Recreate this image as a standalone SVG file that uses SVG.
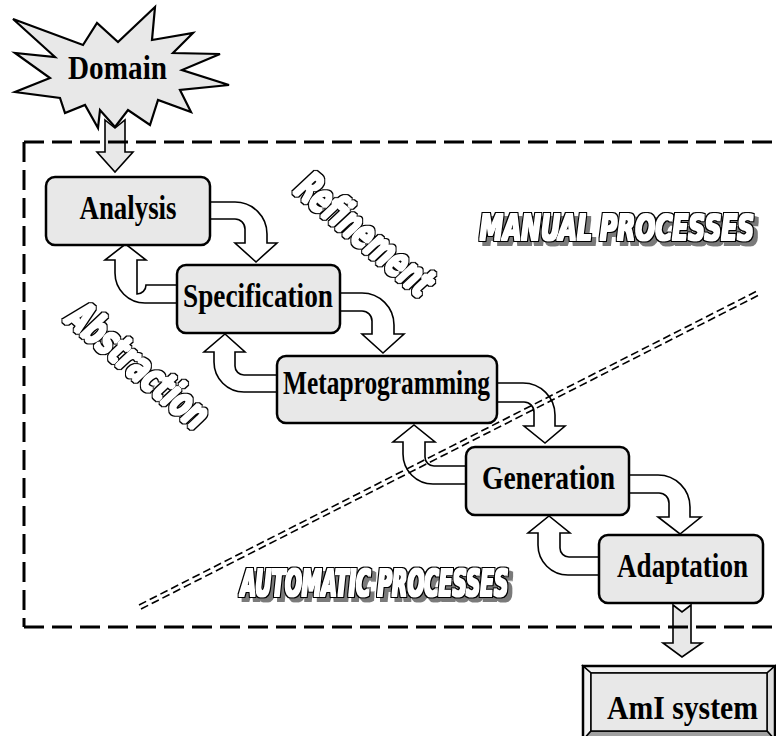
<svg xmlns="http://www.w3.org/2000/svg" width="776" height="736" viewBox="0 0 776 736">
<defs>
<style>
.box{fill:#e8e8e8;stroke:#000;stroke-width:2.5}
.lbl{font-family:'Liberation Serif','Times New Roman',Times,serif;font-weight:bold;font-size:33px;fill:#000;text-anchor:middle}
.arr{fill:#fff;stroke:#000;stroke-width:1.6;stroke-linejoin:miter}
.blk{fill:#e8e8e8;stroke:#000;stroke-width:1.6}
.dash{fill:none;stroke:#000;stroke-width:3;stroke-dasharray:20 8}
.dd{fill:none;stroke:#000;stroke-width:1.6;stroke-dasharray:8 4}
.ot{font-family:'DejaVu Sans',sans-serif;font-weight:bold;font-style:italic;text-anchor:middle;fill:#000}
</style>
<filter id="outl" x="-15%" y="-30%" width="130%" height="160%" color-interpolation-filters="sRGB">
<feMorphology in="SourceAlpha" operator="dilate" radius="2.4" result="big"/>
<feMorphology in="SourceAlpha" operator="dilate" radius="0.9" result="small"/>
<feFlood flood-color="#000000" result="k"/>
<feComposite in="k" in2="big" operator="in" result="kf"/>
<feFlood flood-color="#ffffff" result="w"/>
<feComposite in="w" in2="small" operator="in" result="wf"/>
<feMerge><feMergeNode in="kf"/><feMergeNode in="wf"/></feMerge>
</filter>
<filter id="outlsh" x="-10%" y="-40%" width="125%" height="190%" color-interpolation-filters="sRGB">
<feMorphology in="SourceAlpha" operator="dilate" radius="2.4" result="big"/>
<feMorphology in="SourceAlpha" operator="dilate" radius="0.9" result="small"/>
<feOffset in="big" dx="3.5" dy="3.5" result="off"/>
<feFlood flood-color="#7a7a7a" result="g"/>
<feComposite in="g" in2="off" operator="in" result="sh"/>
<feFlood flood-color="#000000" result="k"/>
<feComposite in="k" in2="big" operator="in" result="kf"/>
<feFlood flood-color="#ffffff" result="w"/>
<feComposite in="w" in2="small" operator="in" result="wf"/>
<feMerge><feMergeNode in="sh"/><feMergeNode in="kf"/><feMergeNode in="wf"/></feMerge>
</filter>
</defs>
<rect width="776" height="736" fill="#fff"/>

<g id="domain">
<polygon points="13,19 83,45 97,23 118,42 155,7 152,40 193,33 173,53 220,54 182,70 229,85 180,90 191,112 158,100 150,125 128,110 115,127 100,110 98,128 85,105 65,113 60,98 15,92 50,78 15,53 55,57" fill="#e8e8e8" stroke="#000" stroke-width="2.2" stroke-linejoin="miter"/>
<text class="lbl" x="117.5" y="79" textLength="99" lengthAdjust="spacingAndGlyphs">Domain</text>
</g>

<g id="connectors">
<path class="blk" d="M105,120 L115,128 L125,120 V152 H133 L115,172 L97,152 H105 Z"/>
<path class="blk" d="M673,605 L682,612 L691,605 V643 H702 L682,657 L663,643 H673 Z"/>
<path class="arr" d="M210,202 H235 A32,32 0 0 1 267,234 V243 H277 L256,262 L235,243 H245 V229 A10,10 0 0 0 235,219 H210 Z"/>
<path class="arr" d="M340,293 H362 A32,32 0 0 1 394,325 V334 H404 L383,353 L362,334 H372 V321 A10,10 0 0 0 362,311 H340 Z"/>
<path class="arr" d="M497,383 H523 A32,32 0 0 1 555,415 V426 H565 L545,443 L524,426 H534 V412 A10,10 0 0 0 524,402 H497 Z"/>
<path class="arr" d="M629,475 H658 A32,32 0 0 1 690,507 V517 H701 L680,534 L658,517 H669 V503 A10,10 0 0 0 659,493 H629 Z"/>
<path class="arr" d="M177,303 H145 A30,30 0 0 1 115,273 V260 H105 L125.5,244 L146,260 H137 V294 A9,9 0 0 0 146,285 H177 Z"/>
<path class="arr" d="M277,392 H244 A30,30 0 0 1 214,362 V352 H204 L225,334 L245,352 H235 V366 A9,9 0 0 0 244,375 H277 Z"/>
<path class="arr" d="M466,484 H433 A30,30 0 0 1 403,454 V442 H393 L414,425 L435,442 H425 V457 A9,9 0 0 0 434,466 H466 Z"/>
<path class="arr" d="M599,575 H568 A30,30 0 0 1 538,545 V533 H528 L549,516 L570,533 H560 V548 A9,9 0 0 0 569,557 H599 Z"/>
</g>

<g id="boundary">
<line class="dash" x1="24" y1="142" x2="790" y2="142"/>
<line class="dash" x1="24" y1="142" x2="24" y2="627"/>
<line class="dash" x1="24" y1="627" x2="790" y2="627"/>
</g>

<g id="divider">
<line class="dd" x1="141" y1="609" x2="761" y2="294"/>
<line class="dd" x1="139" y1="605" x2="759" y2="290"/>
</g>

<g id="analysis">
<rect class="box" x="46" y="177" width="164" height="68" rx="9"/>
<text class="lbl" x="128" y="219" textLength="97" lengthAdjust="spacingAndGlyphs">Analysis</text>
</g>
<g id="specification">
<rect class="box" x="177" y="265" width="163" height="68" rx="9"/>
<text class="lbl" x="258" y="307" textLength="150" lengthAdjust="spacingAndGlyphs">Specification</text>
</g>
<g id="metaprogramming">
<rect class="box" x="277" y="356" width="220" height="67" rx="9"/>
<text class="lbl" x="386.5" y="394" textLength="207" lengthAdjust="spacingAndGlyphs">Metaprogramming</text>
</g>
<g id="generation">
<rect class="box" x="466" y="447" width="163" height="68" rx="9"/>
<text class="lbl" x="548.5" y="489" textLength="133" lengthAdjust="spacingAndGlyphs">Generation</text>
</g>
<g id="adaptation">
<rect class="box" x="599" y="535" width="164" height="68" rx="9"/>
<text class="lbl" x="682.5" y="577" textLength="131" lengthAdjust="spacingAndGlyphs">Adaptation</text>
</g>
<g id="ami">
<polygon points="583,666 775,666 767,673 591,673" fill="#f2f2f2" stroke="#000" stroke-width="1.5"/>
<polygon points="583,666 591,673 591,731 583,740" fill="#f2f2f2" stroke="#000" stroke-width="1.5"/>
<polygon points="775,666 775,740 767,731 767,673" fill="#dcdcdc" stroke="#000" stroke-width="1.5"/>
<polygon points="583,740 591,731 767,731 775,740" fill="#a0a0a0" stroke="#000" stroke-width="1.5"/>
<rect x="591" y="673" width="176" height="58" fill="#e8e8e8" stroke="#000" stroke-width="1.5"/>
<rect x="583" y="666" width="192" height="74" fill="none" stroke="#000" stroke-width="2.5"/>
<text class="lbl" x="682.5" y="719" textLength="151" lengthAdjust="spacingAndGlyphs">AmI system</text>
</g>

<g id="manual-label" filter="url(#outlsh)">
<text class="ot" font-size="36" transform="translate(617,240) scale(0.651,1)">MANUAL PROCESSES</text>
</g>
<g id="automatic-label" filter="url(#outlsh)">
<text class="ot" font-size="38" transform="translate(374.5,596) scale(0.523,1)">AUTOMATIC PROCESSES</text>
</g>
<g id="refinement-label" filter="url(#outl)">
<text class="ot" font-size="42" transform="translate(365.5,234) rotate(40) scale(0.606,1)" y="15">Refinement</text>
</g>
<g id="abstraction-label" filter="url(#outl)">
<text class="ot" font-size="42" transform="translate(139,365) rotate(40) scale(0.619,1)" y="15">Abstraction</text>
</g>
</svg>
